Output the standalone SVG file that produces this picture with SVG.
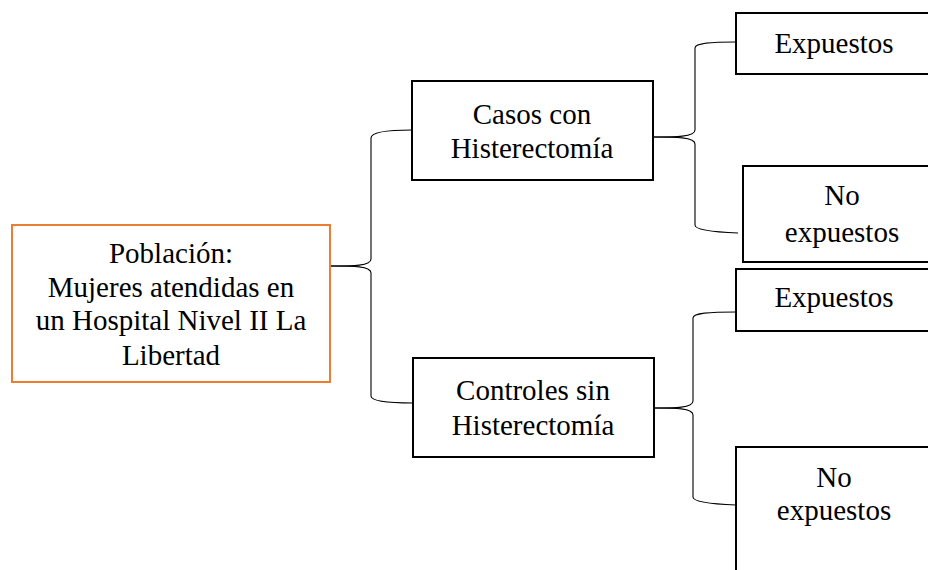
<svg xmlns="http://www.w3.org/2000/svg" width="928" height="570" viewBox="0 0 928 570">
<style>
.box{fill:#fff;stroke:#000;stroke-width:2}
.pob{fill:#fff;stroke:#ED7D31;stroke-width:2}
text{font-family:'Liberation Serif',Tinos,'DejaVu Serif',serif;font-size:29px;fill:#000;text-anchor:middle}
.c{fill:none;stroke:#000;stroke-width:1.1}
</style>
<rect width="928" height="570" fill="#fff"/>
<g id="connectors">
<path class="c" d="M331,266 C353,266 371,266 371,259 L371,138 C371,132 390,130 412,130"/>
<path class="c" d="M331,266 C353,266 371,266 371,273 L371,396 C371,401 390,403 413,403"/>
<path class="c" d="M653,137 C675,137 695,137 695,130 L695,48 C695,43 712,42 736,42"/>
<path class="c" d="M653,137 C675,137 695,137 695,144 L695,225 C695,230 712,232 738,233"/>
<path class="c" d="M654,408 C675,408 693,408 693,401 L693,318 C693,313 710,312 736,312"/>
<path class="c" d="M654,408 C675,408 693,408 693,415 L693,497 C693,502 710,504 736,505"/>
</g>
<g id="poblacion" font-family="Liberation Serif, serif">
<rect class="pob" x="12" y="225" width="318" height="157"/>
<text x="171" y="263">Población:</text>
<text x="171" y="297">Mujeres atendidas en</text>
<text x="171" y="330">un Hospital Nivel II La</text>
<text x="171" y="365">Libertad</text>
</g>
<g id="casos">
<rect class="box" x="412" y="81" width="241" height="99"/>
<text x="532" y="124">Casos con</text>
<text x="532" y="158">Histerectomía</text>
</g>
<g id="controles">
<rect class="box" x="413" y="358" width="241" height="99"/>
<text x="533" y="400">Controles sin</text>
<text x="533" y="435">Histerectomía</text>
</g>
<g id="expuestos1">
<rect class="box" x="736" y="13" width="210" height="61"/>
<text x="834" y="53">Expuestos</text>
</g>
<g id="noexpuestos1">
<rect class="box" x="743" y="166" width="210" height="96"/>
<text x="842" y="205">No</text>
<text x="842" y="242">expuestos</text>
</g>
<g id="expuestos2">
<rect class="box" x="736" y="269" width="210" height="62"/>
<text x="834" y="307">Expuestos</text>
</g>
<g id="noexpuestos2">
<rect class="box" x="736" y="447" width="210" height="140"/>
<text x="834" y="487">No</text>
<text x="834" y="520">expuestos</text>
</g>
</svg>
